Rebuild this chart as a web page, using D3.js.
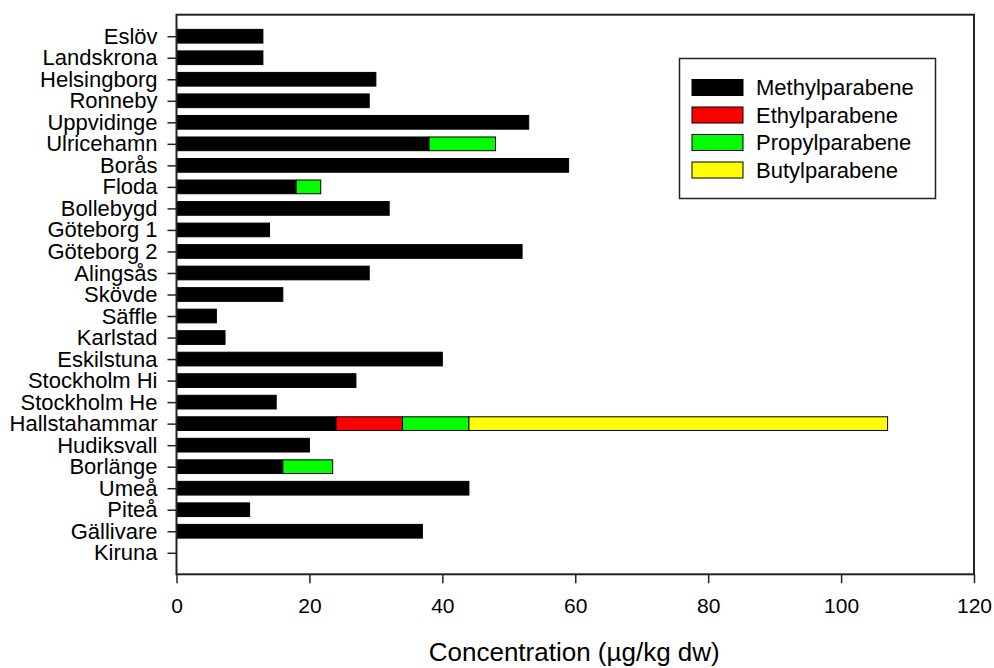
<!DOCTYPE html>
<html>
<head>
<meta charset="utf-8">
<script src="https://cdn.jsdelivr.net/npm/d3@7"></script>
<style>
  html, body { margin: 0; padding: 0; background: #fff; }
  svg { display: block; font-family: "Liberation Sans", Arial, sans-serif; }
</style>
</head>
<body>
<svg id="chart" width="994" height="668"></svg>
<script>
// Sampling sites, top to bottom
const sites = ["Eslöv", "Landskrona", "Helsingborg", "Ronneby", "Uppvidinge", "Ulricehamn",
  "Borås", "Floda", "Bollebygd", "Göteborg 1 ", "Göteborg 2", "Alingsås", "Skövde", "Säffle",
  "Karlstad", "Eskilstuna", "Stockholm Hi", "Stockholm He", "Hallstahammar", "Hudiksvall",
  "Borlänge", "Umeå", "Piteå", "Gällivare", "Kiruna"];

// Concentrations (µg/kg dw) per paraben
const methyl = [13, 13, 30, 29, 53, 38, 59, 18, 32, 14, 52, 29, 16, 6, 7.3, 40, 27, 15, 24, 20, 16, 44, 11, 37, 0];
const ethyl  = [0, 0, 0, 0, 0, 0, 0, 0, 0, 0, 0, 0, 0, 0, 0, 0, 0, 0, 10, 0, 0, 0, 0, 0, 0];
const propyl = [0, 0, 0, 0, 0, 10, 0, 3.7, 0, 0, 0, 0, 0, 0, 0, 0, 0, 0, 10, 0, 7.5, 0, 0, 0, 0];
const butyl  = [0, 0, 0, 0, 0, 0, 0, 0, 0, 0, 0, 0, 0, 0, 0, 0, 0, 0, 63, 0, 0, 0, 0, 0, 0];

const seriesNames = ["Methylparabene", "Ethylparabene", "Propylparabene", "Butylparabene"];
const seriesColors = ["#000000", "#ff0000", "#00ff00", "#ffff00"];
const xTicks = [0, 20, 40, 60, 80, 100, 120];
const xTitle = "Concentration (µg/kg dw)";

const rows = sites.map((s, i) => ({
  site: s,
  Methylparabene: methyl[i],
  Ethylparabene: ethyl[i],
  Propylparabene: propyl[i],
  Butylparabene: butyl[i]
}));

const svg = d3.select("#chart");
const plotLeft = 176.5, plotRight = 974, plotTop = 14.7, plotBottom = 574.3;
const fontFamily = "'Liberation Sans', Arial, sans-serif";

const x = d3.scaleLinear().domain([0, 120]).range([plotLeft, plotRight]);
const y = d3.scalePoint().domain(sites).range([plotTop, plotBottom]).padding(1);
const barH = 13.7;

const stacked = d3.stack().keys(seriesNames)(rows);

// Stacked bars
svg.append("g").selectAll("g")
  .data(stacked)
  .join("g")
  .attr("fill", (d, i) => seriesColors[i])
  .selectAll("rect")
  .data(d => d.filter(p => p[1] - p[0] > 0))
  .join("rect")
  .attr("x", p => x(p[0]))
  .attr("y", p => y(p.data.site) - barH / 2)
  .attr("width", p => x(p[1]) - x(p[0]))
  .attr("height", barH)
  .attr("stroke", "#000")
  .attr("stroke-width", 1);

// Frame
svg.append("rect")
  .attr("x", plotLeft).attr("y", plotTop)
  .attr("width", plotRight - plotLeft).attr("height", plotBottom - plotTop)
  .attr("fill", "none").attr("stroke", "#222").attr("stroke-width", 2);

// X axis
const xAxis = svg.append("g")
  .attr("transform", `translate(0,${plotBottom})`)
  .call(d3.axisBottom(x).tickValues(xTicks).tickFormat(d3.format("d")).tickSize(9).tickPadding(15).tickSizeOuter(0));
xAxis.select(".domain").remove();
xAxis.selectAll("line").attr("stroke", "#222").attr("stroke-width", 1.5);
xAxis.selectAll("text").attr("font-size", 21).attr("fill", "#000").attr("font-family", fontFamily);

// Y axis
const yAxis = svg.append("g")
  .attr("transform", `translate(${plotLeft},0)`)
  .call(d3.axisLeft(y).tickSize(9).tickPadding(10).tickSizeOuter(0));
yAxis.select(".domain").remove();
yAxis.selectAll("line").attr("stroke", "#222").attr("stroke-width", 1.5);
yAxis.selectAll("text").attr("font-size", 22).attr("fill", "#000").attr("font-family", fontFamily);

// Axis title
svg.append("text")
  .attr("x", (plotLeft + plotRight) / 2 - 1).attr("y", 661)
  .attr("text-anchor", "middle")
  .attr("font-size", 26)
  .attr("font-family", fontFamily)
  .text(xTitle);

// Legend
const lg = svg.append("g");
lg.append("rect")
  .attr("x", 679.5).attr("y", 58.5).attr("width", 256).attr("height", 140)
  .attr("fill", "#fff").attr("stroke", "#222").attr("stroke-width", 1.5);
const items = lg.selectAll("g.item")
  .data(seriesNames)
  .join("g")
  .attr("class", "item")
  .attr("transform", (d, i) => `translate(692,${79.5 + i * 27.5})`);
items.append("rect")
  .attr("width", 51).attr("height", 16)
  .attr("fill", (d, i) => seriesColors[i])
  .attr("stroke", "#000").attr("stroke-width", 1);
items.append("text")
  .attr("x", 64).attr("y", 8).attr("dy", "0.35em")
  .attr("font-size", 22)
  .attr("font-family", fontFamily)
  .text(d => d);
</script>
</body>
</html>
